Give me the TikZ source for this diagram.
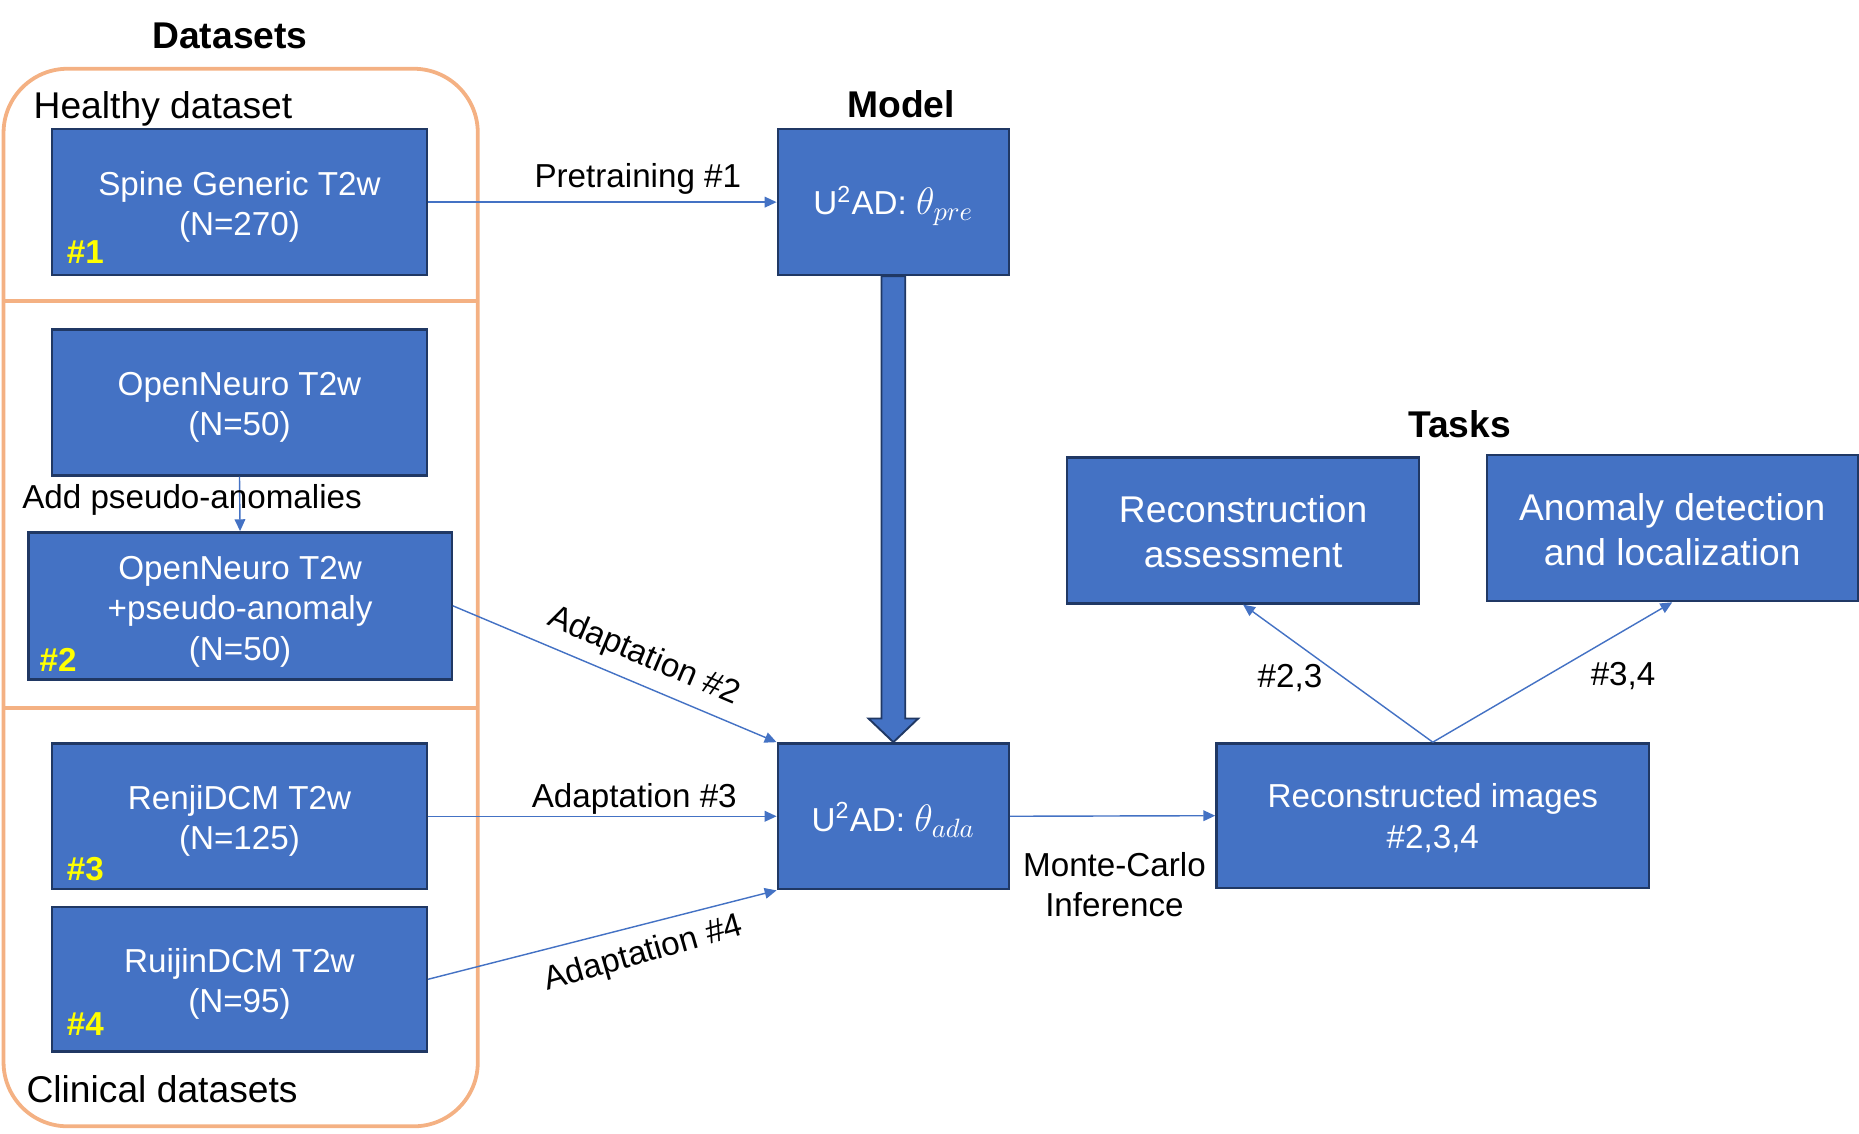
\documentclass[tikz,border=0pt]{standalone}
\usepackage{fontspec}
\setmainfont{Liberation Sans}
\usetikzlibrary{arrows.meta,calc}
\definecolor{boxblue}{HTML}{4472C4}
\definecolor{boxedge}{HTML}{203864}
\definecolor{frameorange}{HTML}{F4B183}
\definecolor{hashyellow}{HTML}{FFFF00}
\begin{document}
\begin{tikzpicture}[x=0.5pt,y=-0.5pt,
  box/.style={draw=boxedge, line width=1pt, fill=boxblue, inner sep=0pt},
  boxtxt/.style={text=white, align=center, font=\fontsize{14}{17}\selectfont, inner sep=0pt},
  bigboxtxt/.style={boxtxt, font=\fontsize{15.7}{19}\selectfont},
  lbl/.style={font=\fontsize{14}{17}\selectfont, inner sep=0pt, align=center},
  biglbl/.style={font=\fontsize{15.7}{19}\selectfont, inner sep=0pt},
  hdr/.style={font=\bfseries\fontsize{15.7}{19}\selectfont, inner sep=0pt},
  tag/.style={font=\bfseries\fontsize{14}{17}\selectfont, text=hashyellow, anchor=west, inner sep=0pt},
  conn/.style={draw=boxblue, line width=0.6pt, -{Triangle[length=5pt,width=4.5pt]}},
  frame/.style={draw=frameorange, line width=1.6pt},
  bigarrow/.style={draw=boxedge, line width=0.8pt, fill=boxblue},
  ]
\useasboundingbox (0,0) rectangle (1568,956);

% frame
\draw[frame, rounded corners=27pt] (3,58) rectangle (403,950);
\draw[frame] (3,254) -- (403,254);
\draw[frame] (3,597) -- (403,597);

% headers
\node[hdr] (hdata) at (194,30) {Datasets};
\node[hdr] (hmodel) at (760,88) {Model};
\node[hdr] (htasks) at (1231,358) {Tasks};
\node[biglbl, anchor=west] (healthy) at (28,91.5) {Healthy dataset};
\node[biglbl, anchor=west] (clinical) at (22,919) {Clinical datasets};

% dataset boxes
\node[box, minimum width=158pt, minimum height=61.5pt] (b1) at (202,170.5) {};
\node[box, minimum width=158pt, minimum height=61.5pt] (on) at (202,339.5) {};
\node[box, minimum width=178.5pt, minimum height=62pt] (b2) at (202.5,511) {};
\node[box, minimum width=158pt, minimum height=61.5pt] (b3) at (202,688.5) {};
\node[box, minimum width=158pt, minimum height=61pt] (b4) at (202,826) {};
\node[boxtxt] (b1t) at ($(b1.center)+(0,4)$) {Spine Generic T2w\\(N=270)};
\node[boxtxt] (ont) at ($(on.center)+(0,4)$) {OpenNeuro T2w\\(N=50)};
\node[boxtxt] (b2t) at ($(b2.center)+(0,5)$) {OpenNeuro T2w\\+pseudo-anomaly\\(N=50)};
\node[boxtxt] (b3t) at ($(b3.center)+(0,4)$) {RenjiDCM T2w\\(N=125)};
\node[boxtxt] (b4t) at ($(b4.center)+(0,4)$) {RuijinDCM T2w\\(N=95)};

\node[tag] (t1) at (56,213) {\#1};
\node[tag] (t2) at (33,557) {\#2};
\node[tag] (t3) at (56,733) {\#3};
\node[tag] (t4) at (56,864) {\#4};

% model boxes
\node[box, minimum width=97.5pt, minimum height=61.5pt] (pre) at (753.5,170.5) {};
\node[box, minimum width=97.5pt, minimum height=61.5pt] (ada) at (753.5,688.5) {};
\node[boxtxt] (pret) at ($(pre.center)+(0,3)$) {U\textsuperscript{2}AD: \scalebox{1.12}{$\theta_{pre}$}};
\node[boxtxt] (adat) at ($(ada.center)+(0,3)$) {U\textsuperscript{2}AD: \scalebox{1.12}{$\theta_{ada}$}};

% task boxes
\node[box, minimum width=182.5pt, minimum height=61pt] (rec) at (1208.5,688) {};
\node[box, minimum width=148.5pt, minimum height=61.5pt] (assess) at (1048.5,447.5) {};
\node[box, minimum width=156.5pt, minimum height=61.5pt] (anom) at (1410.5,445.5) {};
\node[boxtxt] (rect) at ($(rec.center)+(0,2)$) {Reconstructed images\\\#2,3,4};
\node[bigboxtxt] (assesst) at ($(assess.center)+(0,1)$) {Reconstruction\\assessment};
\node[bigboxtxt] (anomt) at ($(anom.center)+(0,1)$) {Anomaly detection\\and localization};

% big arrow
\path[bigarrow] ($(pre.south)+(-10,0)$) -- ($(pre.south)+(10,0)$) -- ($(ada.north)+(10,-20)$) -- ($(ada.north)+(21,-20)$) -- (ada.north) -- ($(ada.north)+(-21,-20)$) -- ($(ada.north)+(-10,-20)$) -- cycle;

% connectors
\draw[conn] (b1.east) -- (pre.west);
\draw[conn] (on.south) -- (b2.north);
\draw[conn] (b2.east) -- (ada.north west);
\draw[conn] (b3.east) -- (ada.west);
\draw[conn] (b4.east) -- (ada.south west);
\draw[conn] (ada.east) -- (rec.west);
\draw[conn] (rec.north) -- (assess.south);
\draw[conn] (rec.north) -- (anom.south);

% labels
\node[lbl] (lpre) at (538,151) {Pretraining \#1};
\node[lbl] (lpseudo) at (162,422) {Add pseudo-anomalies};
\node[lbl, rotate=-23] (la2) at (543,554) {Adaptation \#2};
\node[lbl] (la3) at (535,674) {Adaptation \#3};
\node[lbl, rotate=16] (la4) at (543,805) {Adaptation \#4};
\node[lbl] (lmc) at (940,746) {Monte-Carlo\\Inference};
\node[lbl] (l23) at (1088,572) {\#2,3};
\node[lbl] (l34) at (1369,570) {\#3,4};
\end{tikzpicture}
\end{document}
